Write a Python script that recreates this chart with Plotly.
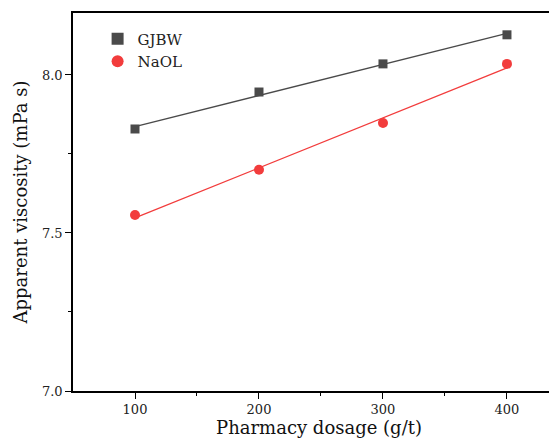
import numpy as np
import plotly.graph_objects as go

dosage = [100, 200, 300, 400]
gjbw = [7.829, 7.946, 8.035, 8.127]
naol = [7.557, 7.700, 7.848, 8.035]

FONT = "DejaVu Serif"
GREY = "#4a4a4a"
RED = "#f23c3c"

fig = go.Figure()

for name, ys, col, sym, sz in [("GJBW", gjbw, GREY, "square", 9), ("NaOL", naol, RED, "circle", 10)]:
    k, b = np.polyfit(dosage, ys, 1)
    xf = [dosage[0], dosage[-1]]
    fig.add_trace(go.Scatter(x=xf, y=[k * v + b for v in xf], mode="lines",
                             line=dict(color=col, width=1.3), showlegend=False, hoverinfo="skip"))
    fig.add_trace(go.Scatter(x=dosage, y=ys, mode="markers", name=name,
                             marker=dict(symbol=sym, size=sz, color=col, line=dict(width=0))))

axis_common = dict(
    showgrid=False, zeroline=False, showline=True, linecolor="black", linewidth=1.5,
    ticks="outside", ticklen=6, tickwidth=1.3, tickcolor="black",
    tickfont=dict(family=FONT, size=13, color="#222"),
    automargin=False,
)

fig.update_xaxes(range=[50, 446.8], tickvals=[100, 200, 300, 400], mirror=True,
                 minor=dict(tickvals=[150, 250, 350], ticks="outside", ticklen=3, tickwidth=1.3, tickcolor="black"),
                 title=dict(text="Pharmacy dosage (g/t)", font=dict(family=FONT, size=18, color="#111"), standoff=8),
                 **axis_common)
fig.update_yaxes(range=[7.0, 8.196], tickvals=[7.0, 7.5, 8.0], ticktext=["7.0", "7.5", "8.0"], mirror=False,
                 minor=dict(tickvals=[7.25, 7.75], ticks="outside", ticklen=3, tickwidth=1.3, tickcolor="black"),
                 title=dict(text="Apparent viscosity (mPa s)", font=dict(family=FONT, size=18, color="#111"), standoff=10),
                 **axis_common)

fig.update_layout(
    width=557, height=430,
    margin=dict(l=65, r=0, t=5, b=47),
    plot_bgcolor="white", paper_bgcolor="white",
    legend=dict(x=0.05, y=0.975, xanchor="left", yanchor="top", bgcolor="rgba(0,0,0,0)",
                font=dict(family=FONT, size=15, color="#222"), itemsizing="constant",
                tracegroupgap=0),
    showlegend=True,
)

fig.write_html("out.html")
